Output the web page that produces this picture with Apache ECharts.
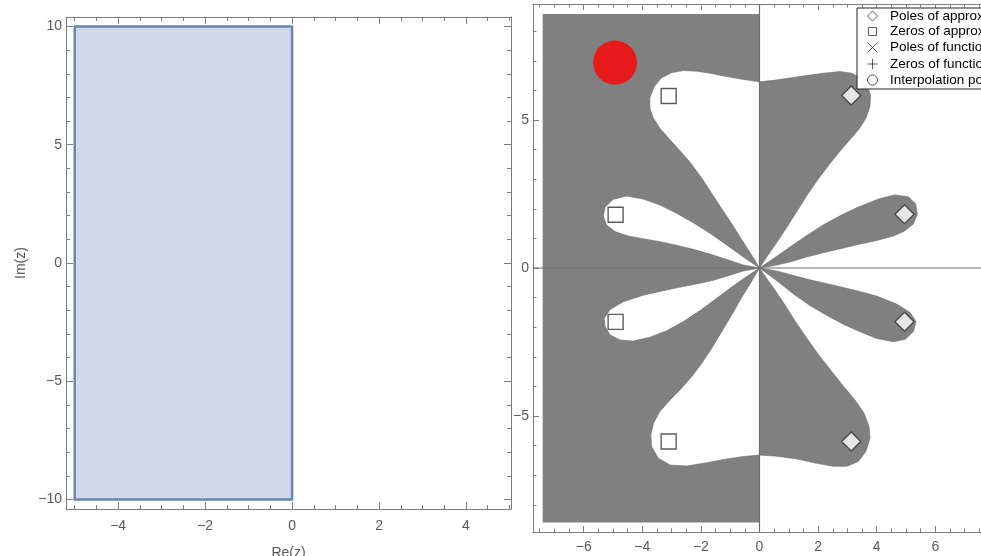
<!DOCTYPE html>
<html><head><meta charset="utf-8">
<script src="https://cdn.jsdelivr.net/npm/echarts@6/dist/echarts.min.js"></script>
<style>html,body{margin:0;padding:0;background:#fff}#c{width:981px;height:556px}</style>
</head><body><div id="c"></div>
<script>
// ---------- Left panel data ----------
const leftMajorX = [-4, -2, 0, 2, 4];
const leftMinorX = [-5, -4.5, -3.5, -3, -2.5, -1.5, -1, -0.5, 0.5, 1, 1.5, 2.5, 3, 3.5, 4.5, 5];
const leftMajorY = [-10, -5, 0, 5, 10];
const leftMinorY = [-9, -8, -7, -6, -4, -3, -2, -1, 1, 2, 3, 4, 6, 7, 8, 9];
const rectRegion = [[-5, -10], [0, -10], [0, 10], [-5, 10]];

// ---------- Right panel data ----------
const rightMajorX = [-6, -4, -2, 0, 2, 4, 6];
const rightMinorX = [-7.5, -7, -6.5, -5.5, -5, -4.5, -3.5, -3, -2.5, -1.5, -1, -0.5, 0.5, 1, 1.5, 2.5, 3, 3.5, 4.5, 5, 5.5, 6.5, 7, 7.5];
const rightMajorY = [-5, 0, 5];
const rightMinorY = [-8, -7, -6, -4, -3, -2, -1, 1, 2, 3, 4, 6, 7, 8];

const leftGrayRegion = [[-7.4, 8.58], [0, 8.58], [0, -8.6], [-7.4, -8.6]];

const upperBigWhitePetal = [[0, 0], [0, 6.29], [-0.55, 6.37], [-1.12, 6.47], [-1.69, 6.58], [-2.14, 6.65], [-2.6, 6.67], [-3.0, 6.6], [-3.35, 6.42], [-3.6, 6.12], [-3.74, 5.75], [-3.74, 5.39], [-3.62, 5.06], [-3.4, 4.72], [-3.1, 4.38], [-2.75, 4.0], [-2.35, 3.55], [-1.98, 3.05], [-1.65, 2.55], [-1.3, 2.02], [-0.95, 1.5], [-0.6, 0.95], [-0.28, 0.46]];
const upperSmallWhitePetal = [[0, 0], [-0.55, 0.37], [-1.12, 0.78], [-1.69, 1.17], [-2.26, 1.53], [-2.83, 1.85], [-3.4, 2.13], [-3.97, 2.33], [-4.53, 2.43], [-4.99, 2.32], [-5.27, 2.05], [-5.33, 1.76], [-5.22, 1.45], [-4.93, 1.23], [-4.48, 1.08], [-3.97, 0.99], [-3.4, 0.89], [-2.83, 0.77], [-2.26, 0.63], [-1.69, 0.47], [-1.12, 0.29], [-0.55, 0.1]];
const lowerSmallWhitePetal = [[0, 0], [-0.55, -0.1], [-1.12, -0.28], [-1.6, -0.42], [-2.2, -0.55], [-2.83, -0.67], [-3.97, -0.92], [-4.65, -1.14], [-5.1, -1.4], [-5.3, -1.7], [-5.27, -1.98], [-5.1, -2.26], [-4.76, -2.43], [-4.31, -2.47], [-3.74, -2.34], [-3.17, -2.12], [-2.6, -1.81], [-2.03, -1.44], [-1.46, -1.02], [-0.89, -0.6], [-0.5, -0.33]];
const lowerBigWhitePetal = [[0, 0], [0, -6.32], [-0.55, -6.37], [-1.12, -6.45], [-1.8, -6.58], [-2.48, -6.69], [-3.05, -6.66], [-3.45, -6.43], [-3.68, -6.04], [-3.71, -5.64], [-3.62, -5.25], [-3.4, -4.85], [-3.05, -4.46], [-2.66, -4.06], [-2.31, -3.67], [-1.97, -3.22], [-1.63, -2.71], [-1.29, -2.15], [-0.95, -1.59], [-0.61, -1.0], [-0.3, -0.5]];

const upperBigGrayPetal = [[0, 0], [0, 6.29], [0.55, 6.35], [1.04, 6.42], [1.6, 6.5], [2.18, 6.58], [2.75, 6.64], [3.15, 6.58], [3.45, 6.42], [3.68, 6.15], [3.79, 5.84], [3.77, 5.45], [3.63, 5.06], [3.4, 4.7], [3.1, 4.35], [2.75, 3.95], [2.38, 3.5], [2.0, 3.0], [1.65, 2.5], [1.3, 1.95], [0.95, 1.4], [0.6, 0.88], [0.28, 0.42]];
const upperSmallGrayPetal = [[0, 0], [0.55, 0.37], [1.1, 0.75], [1.65, 1.12], [2.2, 1.47], [2.78, 1.78], [3.35, 2.05], [4.11, 2.35], [4.62, 2.47], [5.08, 2.41], [5.33, 2.16], [5.39, 1.82], [5.25, 1.49], [4.95, 1.25], [4.57, 1.08], [4.0, 0.93], [3.4, 0.8], [2.8, 0.66], [2.2, 0.52], [1.6, 0.37], [1.1, 0.22], [0.55, 0.09]];
const lowerSmallGrayPetal = [[0, 0], [0.59, -0.1], [1.15, -0.25], [1.72, -0.4], [2.3, -0.53], [2.86, -0.66], [3.45, -0.8], [4.0, -0.95], [4.68, -1.22], [5.14, -1.5], [5.34, -1.81], [5.25, -2.15], [4.97, -2.41], [4.57, -2.49], [4.0, -2.38], [3.43, -2.15], [2.86, -1.9], [2.29, -1.6], [1.72, -1.27], [1.15, -0.87], [0.59, -0.43]];
const lowerBigGrayPetal = [[0, 0], [0, -6.32], [0.59, -6.36], [1.27, -6.45], [1.95, -6.6], [2.52, -6.7], [2.98, -6.7], [3.37, -6.54], [3.63, -6.2], [3.77, -5.75], [3.74, -5.36], [3.57, -4.91], [3.26, -4.46], [2.86, -3.99], [2.45, -3.48], [2.03, -2.95], [1.62, -2.38], [1.22, -1.8], [0.85, -1.22], [0.5, -0.7], [0.22, -0.32]];

const axisLineH = [[-7.73, 0], [7.73, 0]];
const axisLineV = [[0, -8.92], [0, 8.92]];

const polesApprox = [[3.13, 5.83], [4.95, 1.82], [4.95, -1.82], [3.13, -5.86]];
const zerosApprox = [[-3.1, 5.81], [-4.91, 1.8], [-4.91, -1.82], [-3.1, -5.86]];
const polesFunction = [];
const zerosFunction = [];
const interpolationPoints = [[-4.93, 6.94]];

const legendNames = ['Poles of approximant', 'Zeros of approximant', 'Poles of function', 'Zeros of function', 'Interpolation points'];

// ---------- Styling ----------
const FONT = "'Liberation Sans', Arial, sans-serif";
const FRAME = '#7d7d7d';
const LABEL = '#5a5a5a';
const GRAY = '#808080';

function fmt(v) { return v < 0 ? '\u2212' + Math.abs(v) : String(v); }

function axisPair(gridIndex, pos, min, max, major, minor, majLen, minLen, labels, margin, extra, hidden) {
  const base = {
    type: 'value', gridIndex: gridIndex, position: pos, min: min, max: max,
    splitLine: { show: false }, minorTick: { show: false }, minorSplitLine: { show: false }
  };
  const a = Object.assign({}, base, {
    axisLine: { show: !hidden, onZero: false, lineStyle: { color: FRAME, width: 1 } },
    axisTick: { show: !hidden, inside: true, length: majLen, customValues: major, lineStyle: { color: FRAME, width: 1 } },
    axisLabel: { show: labels, customValues: major, formatter: fmt, color: LABEL, fontSize: 14, fontFamily: FONT, margin: margin }
  }, extra || {});
  const b = Object.assign({}, base, {
    axisLine: { show: false, onZero: false },
    axisTick: { show: !hidden, inside: true, length: minLen, customValues: minor, lineStyle: { color: FRAME, width: 1 } },
    axisLabel: { show: false }
  });
  return [a, b];
}

const LX = [-5.2, 5.035], LY = [-10.4, 10.4];
const RX = [-7.73, 7.73], RY = [-8.92, 8.92];

const xAxes = [].concat(
  axisPair(0, 'bottom', LX[0], LX[1], leftMajorX, leftMinorX, 7, 4, true, 10,
    { name: 'Re(z)', nameLocation: 'middle', nameGap: 37, nameTextStyle: { color: LABEL, fontSize: 14, fontFamily: FONT } }),
  axisPair(0, 'top', LX[0], LX[1], leftMajorX, leftMinorX, 7, 4, false, 8),
  axisPair(1, 'bottom', RX[0], RX[1], rightMajorX, rightMinorX, 6, 3.5, true, 8),
  axisPair(1, 'top', RX[0], RX[1], rightMajorX, rightMinorX, 6, 3.5, false, 8)
);
const yAxes = [].concat(
  axisPair(0, 'left', LY[0], LY[1], leftMajorY, leftMinorY, 7, 4, true, 4,
    { name: 'Im(z)', nameLocation: 'middle', nameGap: 38, nameTextStyle: { color: LABEL, fontSize: 14, fontFamily: FONT } }),
  axisPair(0, 'right', LY[0], LY[1], leftMajorY, leftMinorY, 7, 4, false, 4),
  axisPair(1, 'left', RY[0], RY[1], rightMajorY, rightMinorY, 6, 3.5, true, 4),
  axisPair(1, 'right', RY[0], RY[1], rightMajorY, rightMinorY, 6, 3.5, false, 4, null, true)
);

function polygonSeries(pts, fill, stroke, lw, xi, yi, z) {
  return {
    type: 'custom', xAxisIndex: xi, yAxisIndex: yi, z: z, silent: true, animation: false,
    data: pts,
    renderItem: function (params, api) {
      if (params.dataIndex !== 0) return null;
      return {
        type: 'polygon',
        shape: { points: pts.map(function (p) { return api.coord(p); }) },
        style: { fill: fill, stroke: stroke, lineWidth: lw }
      };
    }
  };
}
function polylineSeries(pts, stroke, lw, xi, yi, z) {
  return {
    type: 'custom', xAxisIndex: xi, yAxisIndex: yi, z: z, silent: true, animation: false,
    data: pts,
    renderItem: function (params, api) {
      if (params.dataIndex !== 0) return null;
      return {
        type: 'polyline',
        shape: { points: pts.map(function (p) { return api.coord(p); }) },
        style: { fill: null, stroke: stroke, lineWidth: lw }
      };
    }
  };
}

const RXI = 4, RYI = 4;
const EDGE = '#6c6c6c';
const series = [
  polygonSeries(rectRegion, '#cfd9e9', '#6585b5', 2.4, 0, 0, 1),
  polygonSeries(leftGrayRegion, GRAY, null, 0, RXI, RYI, 1),
  polygonSeries(upperBigWhitePetal, '#fff', EDGE, 0.6, RXI, RYI, 2),
  polygonSeries(upperSmallWhitePetal, '#fff', EDGE, 0.6, RXI, RYI, 2),
  polygonSeries(lowerSmallWhitePetal, '#fff', EDGE, 0.6, RXI, RYI, 2),
  polygonSeries(lowerBigWhitePetal, '#fff', EDGE, 0.6, RXI, RYI, 2),
  polygonSeries(upperBigGrayPetal, GRAY, EDGE, 0.6, RXI, RYI, 3),
  polygonSeries(upperSmallGrayPetal, GRAY, EDGE, 0.6, RXI, RYI, 3),
  polygonSeries(lowerSmallGrayPetal, GRAY, EDGE, 0.6, RXI, RYI, 3),
  polygonSeries(lowerBigGrayPetal, GRAY, EDGE, 0.6, RXI, RYI, 3),
  polylineSeries(axisLineH, '#6e6e6e', 1.2, RXI, RYI, 4),
  polylineSeries(axisLineV, '#6e6e6e', 1.2, RXI, RYI, 4),
  { name: legendNames[0], type: 'scatter', xAxisIndex: RXI, yAxisIndex: RYI, z: 5, symbol: 'diamond', symbolSize: 19,
    itemStyle: { color: '#fff', borderColor: '#333', borderWidth: 1.4 }, data: polesApprox, silent: true, animation: false },
  { name: legendNames[1], type: 'scatter', xAxisIndex: RXI, yAxisIndex: RYI, z: 5, symbol: 'rect', symbolSize: 15,
    itemStyle: { color: '#fff', borderColor: '#333', borderWidth: 1.4 }, data: zerosApprox, silent: true, animation: false },
  { name: legendNames[2], type: 'scatter', xAxisIndex: RXI, yAxisIndex: RYI, z: 5, symbol: 'path://M0,0L10,10M10,0L0,10', symbolSize: 12,
    itemStyle: { color: 'none', borderColor: '#333', borderWidth: 1 }, data: polesFunction, silent: true, animation: false },
  { name: legendNames[3], type: 'scatter', xAxisIndex: RXI, yAxisIndex: RYI, z: 5, symbol: 'path://M5,0L5,10M0,5L10,5', symbolSize: 12,
    itemStyle: { color: 'none', borderColor: '#333', borderWidth: 1 }, data: zerosFunction, silent: true, animation: false },
  { name: legendNames[4], type: 'scatter', xAxisIndex: RXI, yAxisIndex: RYI, z: 5, symbol: 'circle', symbolSize: 44,
    itemStyle: { color: '#ff0000' }, data: interpolationPoints, silent: true, animation: false }
];

const chart = echarts.init(document.getElementById('c'), null, { renderer: 'canvas' });
chart.setOption({
  backgroundColor: '#fff',
  animation: false,
  grid: [
    { left: 66, top: 17, width: 445, height: 492, containLabel: false, outerBoundsMode: 'none' },
    { left: 533, top: 4, width: 453, height: 528, containLabel: false, outerBoundsMode: 'none' }
  ],
  xAxis: xAxes,
  yAxis: yAxes,
  legend: {
    orient: 'vertical', left: 857, top: 8, z: 10,
    padding: [1, 4, 2, 8],
    itemWidth: 25, itemHeight: 10, itemGap: 1.5,
    backgroundColor: '#fff', borderColor: '#222', borderWidth: 1, borderRadius: 0,
    selectedMode: false,
    textStyle: { color: '#000', fontSize: 13.5, fontFamily: FONT, lineHeight: 14 },
    data: [
      { name: legendNames[0], icon: 'path://M5,0L10,5L5,10L0,5Z', itemStyle: { color: '#fff', borderColor: '#333', borderWidth: 1 } },
      { name: legendNames[1], icon: 'path://M0,0M10,10M1,1L9,1L9,9L1,9Z', itemStyle: { color: '#fff', borderColor: '#333', borderWidth: 1 } },
      { name: legendNames[2], icon: 'path://M0,0L10,10M10,0L0,10', itemStyle: { color: 'none', borderColor: '#333', borderWidth: 1 } },
      { name: legendNames[3], icon: 'path://M5,0L5,10M0,5L10,5', itemStyle: { color: 'none', borderColor: '#333', borderWidth: 1 } },
      { name: legendNames[4], icon: 'circle', itemStyle: { color: '#fff', borderColor: '#333', borderWidth: 1 } }
    ]
  },
  series: series
});
</script>
</body></html>
